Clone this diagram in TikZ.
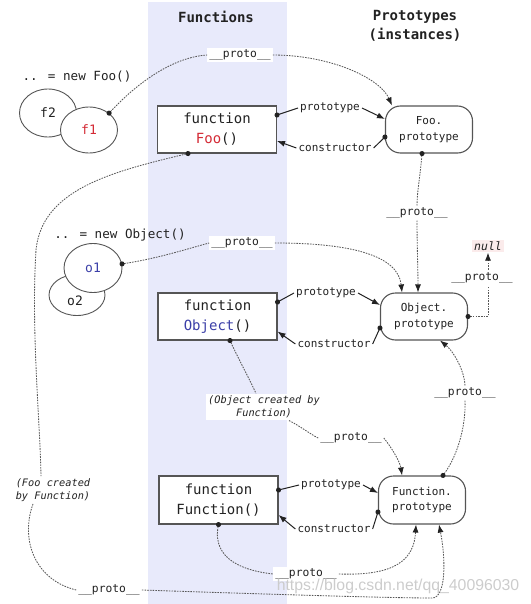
\documentclass[tikz,border=0pt]{standalone}
\usepackage{fontspec}
\newfontfamily\mono{DejaVu Sans Mono}
\newfontfamily\wmfont{Liberation Sans}
\usetikzlibrary{arrows.meta,shapes.geometric}
\definecolor{colbg}{HTML}{E8EAFB}
\definecolor{ink}{HTML}{222222}
\definecolor{edge}{HTML}{555555}
\definecolor{dashc}{HTML}{585858}
\definecolor{fooRed}{HTML}{D42A35}
\definecolor{objBlue}{HTML}{3B3FA8}
\definecolor{nullbg}{HTML}{FBEBEB}
\begin{document}
\begin{tikzpicture}[x=1pt,y=-1pt,
  fnbox/.style={draw=edge, line width=1.1pt, fill=white, minimum width=119pt, minimum height=47pt, align=center, inner sep=0pt, text=ink, font=\mono\fontsize{14}{20}\selectfont},
  protobox/.style={draw=edge, line width=1.1pt, fill=white, rounded corners=15pt, minimum width=87pt, minimum height=47pt, align=center, inner sep=0pt, text=ink, font=\mono\fontsize{11}{15.5}\selectfont},
  inst/.style={ellipse, draw=edge, line width=0.9pt, fill=white, minimum width=57pt, minimum height=47pt, inner sep=0pt, text=ink, font=\mono\fontsize{13}{15}\selectfont},
  plabel/.style={fill=white, inner sep=2pt, text=ink, font=\mono\fontsize{11.3}{13}\selectfont},
  rlabel/.style={inner sep=2pt, text=ink, font=\mono\fontsize{11}{13}\selectfont},
  note/.style={fill=white, inner sep=2pt, align=center, text=ink, font=\mono\itshape\fontsize{10.3}{13.5}\selectfont},
  head/.style={text=ink, font=\mono\bfseries\fontsize{14}{19}\selectfont, align=center},
  code/.style={text=ink, font=\mono\fontsize{12.6}{15}\selectfont},
  link/.style={draw=ink, line width=1pt},
  dlink/.style={draw=dashc, line width=0.85pt, dash pattern=on 1.6pt off 1.1pt},
  dotstart/.style={{Circle[length=5pt,color=ink]}-, shorten <=-2.5pt},
  tipend/.style={-{Latex[length=8pt,width=6pt,color=ink]}},
  dottip/.style={{Circle[length=5pt,color=ink]}-{Latex[length=8pt,width=6pt,color=ink]}, shorten <=-2.5pt},
]
\useasboundingbox (0,0) rectangle (530,604);
\fill[colbg] (148,2) rectangle (287,604);

% headings
\node[head] (hfun) at (216,17) {Functions};
\node[head] (hproto) at (415,25.5) {Prototypes\\(instances)};

% instances
\node[code] (newfoo) at (77,77) {.. = new Foo()};
\node[inst, minimum height=48pt] (f2) at (48,113) {f2};
\node[inst, minimum height=46pt, text=fooRed] (f1) at (89,130) {f1};
\node[code] (newobj) at (120,235) {.. = new Object()};
\node[inst, minimum width=56pt, minimum height=41pt] (o2) at (77,295) {};
\node[text=ink, font=\mono\fontsize{13}{15}\selectfont] (o2t) at (75,301) {o2};
\node[inst, minimum width=58pt, minimum height=49pt, text=objBlue] (o1) at (93,268) {o1};

% functions and prototypes
\node[fnbox] (foo) at (217,129.5) {function\\\textcolor{fooRed}{Foo}()};
\node[protobox] (fp) at (429,129.5) {Foo.\\prototype};
\node[fnbox] (ob) at (217.5,316.5) {function\\\textcolor{objBlue}{Object}()};
\node[protobox] (op) at (424,316.5) {Object.\\prototype};
\node[fnbox, minimum height=48pt] (fb) at (218.5,500) {function\\Function()};
\node[protobox, minimum height=48pt] (fnp) at (422,500) {Function.\\prototype};

% relation labels
\node[rlabel] (pl1) at (330,108) {prototype};
\node[rlabel] (cl1) at (335,148) {constructor};
\node[rlabel] (pl2) at (326,293) {prototype};
\node[rlabel] (cl2) at (334,344) {constructor};
\node[rlabel] (pl3) at (331,485) {prototype};
\node[rlabel] (cl3) at (334,529) {constructor};

% __proto__ labels and notes
\node[plabel] (p1) at (240,55) {\_\_proto\_\_};
\node[plabel] (p2) at (417,213) {\_\_proto\_\_};
\node[plabel] (p3) at (242,243) {\_\_proto\_\_};
\node[plabel] (p5) at (351,438) {\_\_proto\_\_};
\node[plabel] (p6) at (465,393) {\_\_proto\_\_};
\node[plabel] (p7) at (306,574) {\_\_proto\_\_};
\node[plabel] (p8) at (109,590) {\_\_proto\_\_};
\node[fill=nullbg, inner sep=2pt, text=ink, font=\mono\itshape\fontsize{11.5}{13}\selectfont] (nul) at (488,246) {null};
\node[note] (objcr) at (264,407) {(Object created by\\Function)};
\node[note] (fooc) at (53,490) {(Foo created\\by Function)};

% prototype / constructor links
\draw[link, dotstart] ([yshift=14.5pt]foo.east) -- (pl1.west);
\draw[link, tipend] (pl1.east) -- ([yshift=10.5pt]fp.west);
\draw[link, dotstart] ([yshift=-7.5pt]fp.west) -- (cl1.east);
\draw[link, tipend] (cl1.west) -- ([yshift=-11.5pt]foo.east);

\draw[link, dotstart] ([yshift=14.5pt]ob.east) -- (pl2.west);
\draw[link, tipend] (pl2.east) -- ([yshift=11.5pt]op.west);
\draw[link, dotstart] ([yshift=-11.5pt]op.west) -- (cl2.east);
\draw[link, tipend] (cl2.west) -- ([yshift=-15pt]ob.east);

\draw[link, dotstart] ([yshift=10pt]fb.east) -- (pl3.west);
\draw[link, tipend] (pl3.east) -- ([yshift=7pt]fnp.west);
\draw[link, dotstart] ([yshift=-12pt]fnp.west) -- (cl3.east);
\draw[link, tipend] (cl3.west) -- ([yshift=-15pt]fb.east);

% __proto__ chains
\draw[dlink, dotstart] (f1.40) .. controls (140,80) and (175,57) .. (p1.west);
\draw[dlink, tipend] (p1.east) .. controls (330,55) and (380,78) .. ([xshift=7pt]fp.north west);

\draw[dlink, dotstart] ([xshift=-7pt]fp.south) .. controls (420,178) and (417,192) .. (p2.north);
\draw[dlink, tipend] (p2.south) .. controls (417,245) and (418,270) .. ([xshift=-6pt]op.north);

\draw[dlink, dotstart] (o1.8) .. controls (160,258) and (190,248) .. (p3.west);
\draw[dlink, tipend] (p3.east) .. controls (350,243) and (398,255) .. ([xshift=-22pt]op.north);

\draw[dlink, dottip] (op.east) -| node[plabel, pos=0.8, xshift=-6pt] (p4) {\_\_proto\_\_} (nul.south);

\draw[dlink, dotstart] ([xshift=12.5pt]ob.south) .. controls (240,362) and (250,380) .. ([xshift=-8pt]objcr.north);
\draw[dlink] ([xshift=25pt]objcr.south) .. controls (300,426) and (310,434) .. (p5.west);
\draw[dlink, tipend] (p5.east) .. controls (392,448) and (400,462) .. ([xshift=-20pt]fnp.north);

\draw[dlink, dotstart] ([xshift=21pt]fnp.north) .. controls (458,455) and (466,425) .. (p6.south);
\draw[dlink, tipend] (p6.north) .. controls (464,368) and (452,350) .. ([xshift=16pt]op.south);

\draw[dlink, dotstart] (fb.south) .. controls (212,560) and (245,571) .. (p7.west);
\draw[dlink, tipend] (p7.east) .. controls (395,576) and (414,560) .. ([xshift=-6pt]fnp.south);

\draw[dlink, dotstart] ([xshift=-29pt]foo.south) .. controls (110,172) and (42,190) .. (36,250) .. controls (31,330) and (40,420) .. ([xshift=-12pt]fooc.north);
\draw[dlink] ([xshift=-20pt]fooc.south) .. controls (20,540) and (35,580) .. (p8.west);
\draw[dlink, tipend] (p8.east) .. controls (260,594) and (390,598) .. (432,598) .. controls (446,598) and (446,560) .. ([xshift=17pt]fnp.south);

% watermark
\node[text=black!20, font=\wmfont\fontsize{15.8}{18}\selectfont] (wm) at (398,586) {https://blog.csdn.net/qq\_40096030};
\end{tikzpicture}
\end{document}
